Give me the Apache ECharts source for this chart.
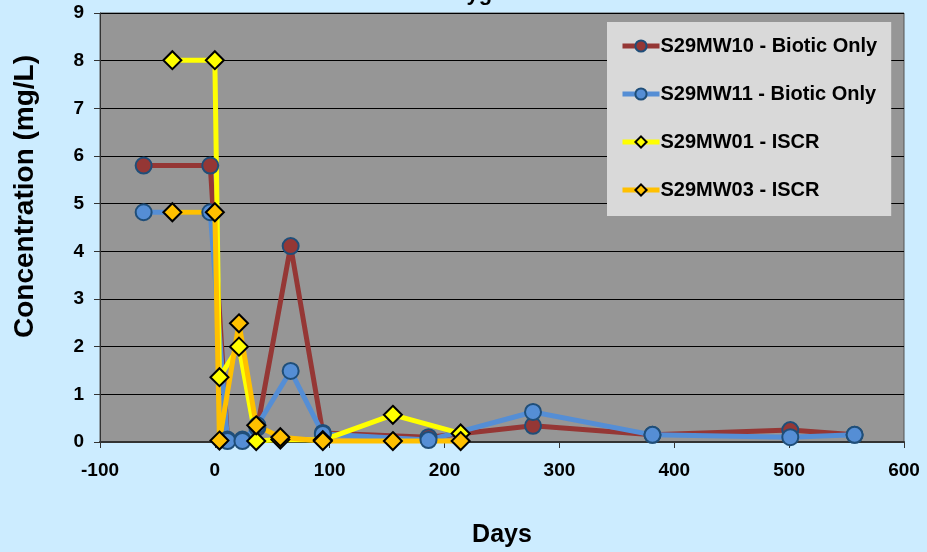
<!DOCTYPE html>
<html>
<head>
<meta charset="utf-8">
<script src="https://cdn.jsdelivr.net/npm/echarts@6/dist/echarts.min.js"></script>
<style>
	html, body { margin: 0; padding: 0; background: #CCECFF; }
	#mychart { width: 927px; height: 552px; }
</style>
</head>
<body>
<div id="mychart"></div>
<script>
// 各监测井数据 (天数, 浓度 mg/L)
var mw10Days = [-62, -4, 11, 24, 37, 66, 94, 186, 277, 381, 501, 557];
var mw10Vals = [5.8, 5.8, 0.05, 0.05, 0.3, 4.11, 0.19, 0.1, 0.34, 0.15, 0.25, 0.15];

var mw11Days = [-62, -4, 11, 24, 37, 66, 94, 186, 277, 381, 501, 557];
var mw11Vals = [4.82, 4.82, 0.02, 0.02, 0.35, 1.49, 0.17, 0.04, 0.63, 0.15, 0.1, 0.15];

var mw01Days = [-37, 0, 4, 21, 36, 57, 94, 155, 214];
var mw01Vals = [8.01, 8.01, 1.36, 2.0, 0.02, 0.05, 0.04, 0.57, 0.18];

var mw03Days = [-37, 0, 4, 21, 36, 57, 94, 155, 214];
var mw03Vals = [4.82, 4.82, 0.03, 2.49, 0.35, 0.1, 0.02, 0.02, 0.02];

var xTicks = { min: -100, max: 600, step: 100 };
var yTicks = { min: 0, max: 9, step: 1 };

function pairs(days, vals) {
	var out = [];
	for (var i = 0; i < days.length; i++) {
		out.push([days[i], vals[i]]);
	}
	return out;
}

var myChart = echarts.init(document.getElementById('mychart'));
var font = 'Liberation Sans, Arial, sans-serif';

var option = {
	animation: false,
	backgroundColor: '#CCECFF',
	title: {
		text: 'Dissolved Oxygen',
		left: 322,
		top: -22,
		textStyle: { fontFamily: font, fontWeight: 'bold', fontSize: 22, color: '#000' }
	},
	legend: {
		orient: 'vertical',
		left: 607,
		top: 22,
		padding: [14, 14, 16, 13],
		backgroundColor: '#D9D9D9',
		itemWidth: 37,
		itemHeight: 14,
		itemGap: 28,
		lineStyle: { width: 5 },
		textStyle: { fontFamily: font, fontWeight: 'bold', fontSize: 20, color: '#000', padding: [0, 0, 0, -4] }
	},
	grid: {
		left: 100,
		right: 23,
		top: 13,
		bottom: 110,
		outerBoundsMode: 'none',
		show: true,
		backgroundColor: '#969696',
		borderColor: '#555',
		borderWidth: 1
	},
	xAxis: {
		type: 'value',
		min: xTicks.min,
		max: xTicks.max,
		interval: xTicks.step,
		name: 'Days',
		nameLocation: 'middle',
		nameGap: 81,
		nameTextStyle: { fontFamily: font, fontWeight: 'bold', fontSize: 25, color: '#000' },
		axisLine: { onZero: false, lineStyle: { color: '#333', width: 2 } },
		axisTick: { show: true, length: 6, lineStyle: { color: '#333' } },
		axisLabel: { margin: 19, fontFamily: font, fontWeight: 'bold', fontSize: 19, color: '#000' },
		splitLine: { show: false }
	},
	yAxis: {
		type: 'value',
		min: yTicks.min,
		max: yTicks.max,
		interval: yTicks.step,
		name: 'Concentration (mg/L)',
		nameLocation: 'middle',
		nameGap: 61,
		nameTextStyle: { fontFamily: font, fontWeight: 'bold', fontSize: 28, color: '#000', padding: [0, 0, 0, 62] },
		axisLine: { show: true, onZero: false, lineStyle: { color: '#333', width: 1 } },
		axisTick: { show: true, length: 6, lineStyle: { color: '#333' } },
		axisLabel: { margin: 16, fontFamily: font, fontWeight: 'bold', fontSize: 19, color: '#000' },
		splitLine: { show: true, lineStyle: { color: '#000', width: 1 } }
	},
	series: [
		{
			name: 'S29MW10 - Biotic Only',
			type: 'line',
			data: pairs(mw10Days, mw10Vals),
			symbol: 'circle',
			symbolSize: 16,
			lineStyle: { color: '#953735', width: 5 },
			itemStyle: { color: '#953735', borderColor: '#1F4E79', borderWidth: 2 }
		},
		{
			name: 'S29MW11 - Biotic Only',
			type: 'line',
			data: pairs(mw11Days, mw11Vals),
			symbol: 'circle',
			symbolSize: 16,
			lineStyle: { color: '#558ED5', width: 5 },
			itemStyle: { color: '#558ED5', borderColor: '#1F4E79', borderWidth: 2 }
		},
		{
			name: 'S29MW01 - ISCR',
			type: 'line',
			data: pairs(mw01Days, mw01Vals),
			symbol: 'diamond',
			symbolSize: 18,
			lineStyle: { color: '#FFFF00', width: 5 },
			itemStyle: { color: '#FFFF00', borderColor: '#000', borderWidth: 2 }
		},
		{
			name: 'S29MW03 - ISCR',
			type: 'line',
			data: pairs(mw03Days, mw03Vals),
			symbol: 'diamond',
			symbolSize: 18,
			lineStyle: { color: '#FFC000', width: 5 },
			itemStyle: { color: '#FFC000', borderColor: '#000', borderWidth: 2 }
		}
	]
};
myChart.setOption(option);
</script>
</body>
</html>
